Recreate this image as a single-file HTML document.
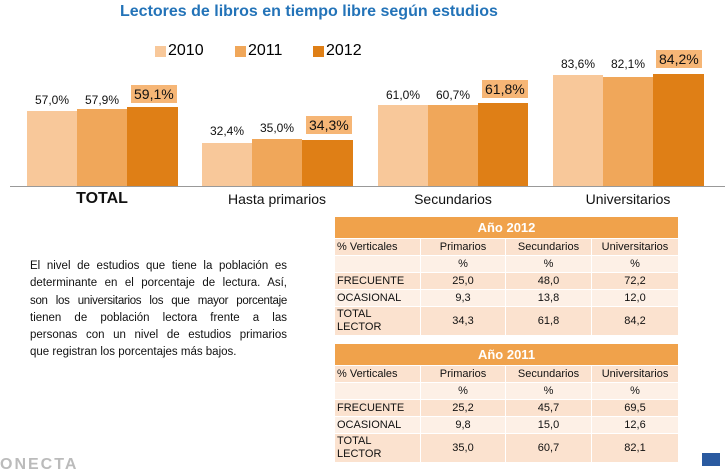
<!DOCTYPE html><html><head><meta charset="utf-8"><style>
body{margin:0;width:725px;height:466px;background:#fff;position:relative;overflow:hidden;font-family:"Liberation Sans",sans-serif}
.a{position:absolute}
.bar{position:absolute;bottom:280px}
.v{position:absolute;font-size:12px;width:50px;text-align:center;color:#111}
.v2{position:absolute;font-size:14px;background:#f6b676;color:#111;padding:1px 3px}
.c{position:absolute;top:191px;font-size:14px;text-align:center;width:150px;color:#111}
table{position:absolute;left:334px;width:344px;border-collapse:collapse;font-size:11px;color:#111;table-layout:fixed}
td{padding:0 2px;text-align:center;height:16px;line-height:14px;border:1px solid #fff;white-space:nowrap;overflow:hidden}
td:first-child{text-align:left}
th{background:#f0a24b;color:#fff;font-size:13px;height:21px;border:1px solid #fff;padding:0}
.l{background:#fdf0e6}.d{background:#fbe2cf}
.p div{text-align:justify;text-align-last:justify;height:17.3px;white-space:nowrap}
</style></head><body>
<div class="a" style="left:120px;top:3px;font-size:16px;font-weight:bold;color:#2373b8">Lectores de libros en tiempo libre según estudios</div>
<div class="a" style="left:155px;top:46px;width:11px;height:11px;background:#f8c89a"></div><div class="a" style="left:168px;top:42px;font-size:16px">2010</div>
<div class="a" style="left:235px;top:46px;width:11px;height:11px;background:#f0a75a"></div><div class="a" style="left:248px;top:42px;font-size:16px">2011</div>
<div class="a" style="left:313px;top:46px;width:11px;height:11px;background:#df7f16"></div><div class="a" style="left:326px;top:42px;font-size:16px">2012</div>
<div class="a" style="left:10px;top:186px;width:715px;height:1px;background:#999"></div>
<div class="bar" style="left:27px;width:50px;height:75px;background:#f8c89a"></div>
<div class="bar" style="left:77px;width:50px;height:77px;background:#f0a75a"></div>
<div class="bar" style="left:127px;width:51px;height:79px;background:#df7f16"></div>
<div class="bar" style="left:202px;width:50px;height:43px;background:#f8c89a"></div>
<div class="bar" style="left:252px;width:50px;height:47px;background:#f0a75a"></div>
<div class="bar" style="left:302px;width:51px;height:46px;background:#df7f16"></div>
<div class="bar" style="left:378px;width:50px;height:81px;background:#f8c89a"></div>
<div class="bar" style="left:428px;width:50px;height:81px;background:#f0a75a"></div>
<div class="bar" style="left:478px;width:50px;height:83px;background:#df7f16"></div>
<div class="bar" style="left:553px;width:50px;height:111px;background:#f8c89a"></div>
<div class="bar" style="left:603px;width:50px;height:109px;background:#f0a75a"></div>
<div class="bar" style="left:653px;width:51px;height:112px;background:#df7f16"></div>
<div class="v" style="left:27px;top:93px">57,0%</div><div class="v" style="left:77px;top:93px">57,9%</div><div class="v2" style="left:131px;top:85px">59,1%</div>
<div class="v" style="left:202px;top:124px">32,4%</div><div class="v" style="left:252px;top:121px">35,0%</div><div class="v2" style="left:306px;top:116px">34,3%</div>
<div class="v" style="left:378px;top:88px">61,0%</div><div class="v" style="left:428px;top:88px">60,7%</div><div class="v2" style="left:482px;top:80px">61,8%</div>
<div class="v" style="left:553px;top:57px">83,6%</div><div class="v" style="left:603px;top:57px">82,1%</div><div class="v2" style="left:656px;top:50px">84,2%</div>
<div class="c" style="left:27px;font-weight:bold;font-size:16px;top:190px">TOTAL</div>
<div class="c" style="left:202px">Hasta primarios</div>
<div class="c" style="left:378px">Secundarios</div>
<div class="c" style="left:553px">Universitarios</div>
<div class="a p" style="left:30px;top:258px;width:257px;font-size:11.5px;line-height:17.3px;color:#111">
<div>El nivel de estudios que tiene la población es</div>
<div>determinante en el porcentaje de lectura. Así,</div>
<div style="letter-spacing:-0.3px">son los universitarios los que mayor porcentaje</div>
<div>tienen de población lectora frente a las</div>
<div>personas con un nivel de estudios primarios</div>
<div style="text-align-last:left">que registran los porcentajes más bajos.</div>
</div>
<table style="top:216px"><colgroup><col style="width:86px"><col style="width:85px"><col style="width:86px"><col style="width:87px"></colgroup><tr><th colspan="4">Año 2012</th></tr>
<tr class="d"><td>% Verticales</td><td>Primarios</td><td>Secundarios</td><td>Universitarios</td></tr>
<tr class="l"><td></td><td>%</td><td>%</td><td>%</td></tr>
<tr class="d"><td>FRECUENTE</td><td>25,0</td><td>48,0</td><td>72,2</td></tr>
<tr class="l"><td>OCASIONAL</td><td>9,3</td><td>13,8</td><td>12,0</td></tr>
<tr class="d"><td style="line-height:13px;height:28px">TOTAL<br>LECTOR</td><td>34,3</td><td>61,8</td><td>84,2</td></tr></table>
<table style="top:343px"><colgroup><col style="width:86px"><col style="width:85px"><col style="width:86px"><col style="width:87px"></colgroup><tr><th colspan="4">Año 2011</th></tr>
<tr class="d"><td>% Verticales</td><td>Primarios</td><td>Secundarios</td><td>Universitarios</td></tr>
<tr class="l"><td></td><td>%</td><td>%</td><td>%</td></tr>
<tr class="d"><td>FRECUENTE</td><td>25,2</td><td>45,7</td><td>69,5</td></tr>
<tr class="l"><td>OCASIONAL</td><td>9,8</td><td>15,0</td><td>12,6</td></tr>
<tr class="d"><td style="line-height:13px;height:28px">TOTAL<br>LECTOR</td><td>35,0</td><td>60,7</td><td>82,1</td></tr></table>
<div class="a" style="left:702px;top:453px;width:18px;height:13px;background:#2a5aa0"></div>
<div class="a" style="left:0;top:456px;font-size:16px;font-weight:bold;color:#bbb;letter-spacing:2px">ONECTA</div>
</body></html>
